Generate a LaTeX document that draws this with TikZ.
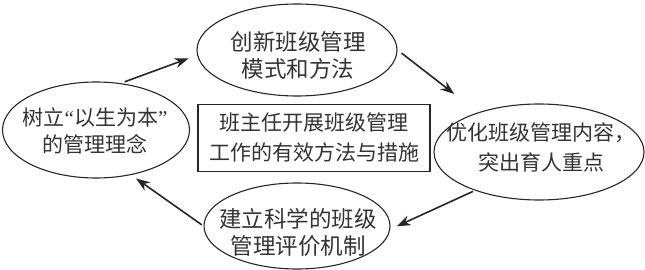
\documentclass[tikz,border=0pt]{standalone}
\usepackage{fontspec}
\setmainfont{Noto Sans CJK SC}
\newfontfamily\quotefont{Liberation Serif}
\usetikzlibrary{shapes.geometric, arrows.meta}

\begin{document}
\begin{tikzpicture}[x=1pt, y=-1pt, bubble/.style={ellipse, draw=black!85, line width=1.1pt, inner sep=0pt}, txt/.style={align=center, text=black!80, font=\fontsize{21}{27}\selectfont}, big/.style={font=\fontsize{22.5}{27}\selectfont}, arrow/.style={-{Stealth[length=14pt, width=10pt]}, line width=1.6pt, black!85}]
  \useasboundingbox (0,0) rectangle (645,270);
  \node[bubble, minimum width=187pt, minimum height=96pt] (lixian) at (96,130) {};
  \node[txt] (lixian-t) at (95,131) {树立{\quotefont“}以生为本{\quotefont”}\\的管理理念};
  \node[bubble, minimum width=200pt, minimum height=92pt] (chuangxin) at (297,50) {};
  \node[txt, big] (chuangxin-t) at (298,55) {创新班级管理\\模式和方法};
  \node[bubble, minimum width=210pt, minimum height=96pt] (youhua) at (539,152) {};
  \node[txt, font=\fontsize{21}{30}\selectfont] (youhua-t) at (541,147) {优化班级管理内容，\\突出育人重点};
  \node[bubble, minimum width=186pt, minimum height=86pt] (jianli) at (297,226) {};
  \node[txt, big] (jianli-t) at (298,232) {建立科学的班级\\管理评价机制};
  \node[txt, draw=black!85, line width=1.2pt, minimum width=232pt, minimum height=67pt, font=\fontsize{21}{30}\selectfont] (zhuti) at (314,138) {班主任开展班级管理\\工作的有效方法与措施};
  \draw[arrow, shorten <=4pt, shorten >=9pt] (lixian.62) -- (chuangxin.183);
  \draw[arrow, shorten <=5pt, shorten >=30pt] (chuangxin.east) -- (youhua.147);
  \draw[arrow, shorten <=2pt, shorten >=7pt] (youhua.211) -- (jianli.-2);
  \draw[arrow, shorten <=2pt, shorten >=6pt] (jianli.west) -- (lixian.-52);
\end{tikzpicture}
\end{document}
